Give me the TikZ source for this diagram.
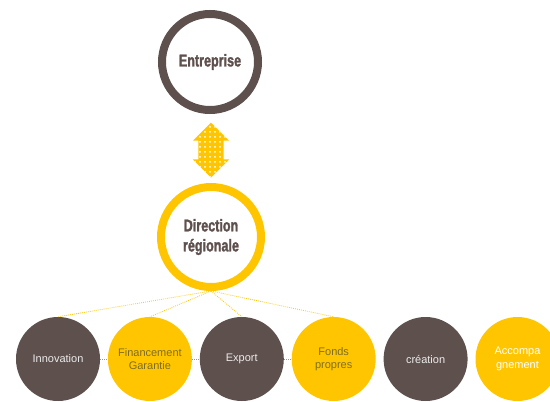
\documentclass[tikz,border=0pt]{standalone}
\usepackage{fontspec}
\setmainfont{Liberation Sans}
\newfontfamily\headfont[FakeStretch=0.74,FakeBold=1.6]{Liberation Sans}
\usetikzlibrary{positioning}
\usetikzlibrary{shapes.arrows}
\usetikzlibrary{patterns.meta}
\definecolor{taupe}{HTML}{5E504D}
\definecolor{gold}{HTML}{FFC600}
\definecolor{olive}{HTML}{7E6C24}

\begin{document}
\begin{tikzpicture}
    [
    x=1pt,y=-1pt,
    ring/.style={circle,draw,line width=8pt,minimum size=96pt,inner sep=0pt,align=center,
        text=taupe,font=\headfont\bfseries\fontsize{17}{20}\selectfont},
    disc/.style={circle,minimum size=84pt,inner sep=0pt,align=center,font=\fontsize{11}{13.5}\selectfont},
    darkdisc/.style={disc,fill=taupe,text=white!92!black},
    golddisc/.style={disc,fill=gold,text=olive},
    link/.style={double arrow,rotate=90,minimum height=55pt,minimum width=36pt,inner xsep=0pt,inner ysep=12.5pt,
        double arrow head extend=5.5pt,preaction={fill=gold},
        pattern={Dots[distance=5pt,radius=1pt]},pattern color=white},
    branch/.style={gold,line width=0.8pt,dash pattern=on 0.8pt off 1.2pt},
    chain/.style={taupe!60,line width=0.8pt,dash pattern=on 0.8pt off 1.2pt}
    ]
    \useasboundingbox (0,0) rectangle (550,402);
    \node[ring,draw=taupe] (ent) at (210,62) {Entreprise};
    \node[link] (lnk) at (211,150) {};
    \node[ring,draw=gold,minimum size=100pt] (dir) at (211,237) {Direction\\régionale};
    \node[darkdisc] (inno) at (58,359) {Innovation};
    \node[golddisc,right=7.5pt of inno] (fin) {Financement\\Garantie};
    \node[darkdisc,right=7.5pt of fin] (exp) {Export};
    \node[golddisc,right=7.5pt of exp] (fonds) {Fonds\\propres};
    \node[darkdisc,right=7.5pt of fonds] (crea) {création};
    \node[golddisc,right=7.5pt of crea,text=white] (acc) {Accompa\\gnement};
    \path[branch]
        (dir.south) edge (inno.north)
        (dir.south) edge (fin.north)
        (dir.south) edge (exp.north)
        (dir.south) edge (fonds.north);
    \path[chain]
        (inno) edge (fin)
        (fin) edge (exp)
        (exp) edge (fonds);
\end{tikzpicture}
\end{document}
